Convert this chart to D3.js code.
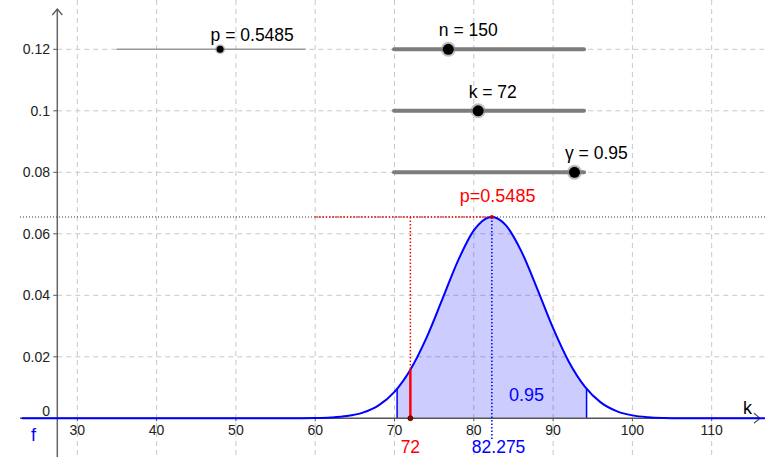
<!DOCTYPE html>
<html>
<head>
<meta charset="utf-8">
<script src="https://cdn.jsdelivr.net/npm/d3@7"></script>
<style>
  body { margin: 0; background: #fff; }
  svg { display: block; font-family: 'Liberation Sans', Arial, sans-serif; }
</style>
</head>
<body>
<svg id="chart"></svg>
<script>
// curve (k, f(k))
const curveK = [23, 30, 40, 50, 56, 58, 60, 62, 64, 66, 68, 70, 72, 74, 76, 78, 80, 82, 82.275, 84, 86, 88, 90, 92, 94, 96, 98, 100, 102, 104, 106, 110, 117]
const curveF = [0, 0, 0, 0, 0.00001, 0.00003, 0.00008, 0.00026, 0.00073, 0.00185, 0.00422, 0.00861, 0.0158, 0.026, 0.0385, 0.0512, 0.0611, 0.0654, 0.06546, 0.0629, 0.0543, 0.0421, 0.0293, 0.0183, 0.0103, 0.00518, 0.00235, 0.00095, 0.00035, 0.00011, 0.00003, 0, 0]

const xTicks = [30, 40, 50, 60, 70, 80, 90, 100, 110]
const yTicks = [0.02, 0.04, 0.06, 0.08, 0.1, 0.12]

// sliders
const sliderNames = ['p', 'n', 'k', 'γ']
const sliderValues = [0.5485, 150, 72, 0.95]
const sliderMins = [0, 10, 10, 0]
const sliderMaxs = [1, 500, 150, 1]

// annotations
const meanK = 82.275
const peakF = 0.06546
const chosenK = 72
const chosenF = 0.0158
const intervalK = [70.33, 94.22]
const intervalF = [0.0096, 0.0096]
const gammaLabel = '0.95'
const pLabel = 'p=0.5485'
const redLineStartK = 60

const width = 765
const height = 457

const svg = d3.select('#chart').attr('width', width).attr('height', height)

const x = d3.scaleLinear().domain([30, 110]).range([77.3, 711.7])
const y = d3.scaleLinear().domain([0, 0.12]).range([418.3, 49.3])
const axisX = 57.3
const axisY = y(0)

const pts = curveK.map((k, i) => [k, curveF[i]])

// grid
const grid = svg.append('g').attr('class', 'layer__grid')
grid.selectAll('.vg').data(xTicks).enter().append('line')
  .attr('x1', d => x(d)).attr('x2', d => x(d))
  .attr('y1', 0).attr('y2', height)
  .attr('stroke', '#c8c8c8').attr('stroke-dasharray', '5 4')
grid.selectAll('.hg').data(yTicks).enter().append('line')
  .attr('x1', axisX).attr('x2', width)
  .attr('y1', d => y(d)).attr('y2', d => y(d))
  .attr('stroke', '#c8c8c8').attr('stroke-dasharray', '5 4')

// peak dotted line
svg.append('line')
  .attr('x1', 20).attr('x2', width)
  .attr('y1', y(peakF)).attr('y2', y(peakF))
  .attr('stroke', '#333').attr('stroke-dasharray', '1 2')

// shaded interval
svg.append('clipPath').attr('id', 'clipInt')
  .append('rect')
  .attr('x', x(intervalK[0])).attr('y', 0)
  .attr('width', x(intervalK[1]) - x(intervalK[0])).attr('height', height)

const area = d3.area()
  .x(d => x(d[0])).y0(axisY).y1(d => y(d[1]))
  .curve(d3.curveMonotoneX)

svg.append('path')
  .datum(pts)
  .attr('d', area)
  .attr('clip-path', 'url(#clipInt)')
  .attr('fill', '#0000ff').attr('fill-opacity', 0.2)

svg.selectAll('.bound').data(intervalK).enter().append('line')
  .attr('x1', d => x(d)).attr('x2', d => x(d))
  .attr('y1', axisY).attr('y2', (d, i) => y(intervalF[i]))
  .attr('stroke', '#0000ff').attr('stroke-width', 1.5)

// axes
const axes = svg.append('g').attr('class', 'layer__axes')
axes.append('line')
  .attr('x1', 20).attr('x2', 760).attr('y1', axisY).attr('y2', axisY)
  .attr('stroke', '#555').attr('stroke-width', 1.5)
axes.append('line')
  .attr('x1', axisX).attr('x2', axisX).attr('y1', 9).attr('y2', height)
  .attr('stroke', '#666').attr('stroke-width', 1.5)
axes.append('path')
  .attr('d', `M${axisX - 5},15 L${axisX},9 L${axisX + 5},15`)
  .attr('fill', 'none').attr('stroke', '#555').attr('stroke-width', 1.2)
axes.append('path')
  .attr('d', `M754,${axisY - 5} L760,${axisY} L754,${axisY + 5}`)
  .attr('fill', 'none').attr('stroke', '#555').attr('stroke-width', 1.2)

axes.selectAll('.yt').data(yTicks).enter().append('line')
  .attr('x1', axisX - 4).attr('x2', axisX)
  .attr('y1', d => y(d)).attr('y2', d => y(d))
  .attr('stroke', '#555')
axes.selectAll('.xt').data(xTicks).enter().append('line')
  .attr('x1', d => x(d)).attr('x2', d => x(d))
  .attr('y1', axisY).attr('y2', axisY + 3)
  .attr('stroke', '#555')

axes.selectAll('.ytl').data(yTicks).enter().append('text')
  .attr('x', 50).attr('y', d => y(d)).attr('dy', '0.35em')
  .attr('text-anchor', 'end').attr('font-size', 14).attr('fill', '#222')
  .text(d => d)
axes.append('text')
  .attr('x', 50).attr('y', 416).attr('text-anchor', 'end')
  .attr('font-size', 14).attr('fill', '#222').text('0')
axes.selectAll('.xtl').data(xTicks).enter().append('text')
  .attr('x', d => x(d)).attr('y', 435)
  .attr('text-anchor', 'middle').attr('font-size', 14).attr('fill', '#222')
  .text(d => d)

// curve
const line = d3.line().x(d => x(d[0])).y(d => y(d[1])).curve(d3.curveMonotoneX)
svg.append('path')
  .datum(pts)
  .attr('d', line)
  .attr('fill', 'none').attr('stroke', '#0000ff').attr('stroke-width', 2)

// red guides
svg.append('line')
  .attr('x1', x(redLineStartK)).attr('x2', x(meanK))
  .attr('y1', y(peakF)).attr('y2', y(peakF))
  .attr('stroke', '#ff0000').attr('stroke-width', 1.5).attr('stroke-dasharray', '1.5 2')
svg.append('line')
  .attr('x1', x(chosenK)).attr('x2', x(chosenK))
  .attr('y1', y(peakF)).attr('y2', y(chosenF))
  .attr('stroke', '#ff0000').attr('stroke-width', 1.5).attr('stroke-dasharray', '1.5 2')
svg.append('line')
  .attr('x1', x(chosenK)).attr('x2', x(chosenK))
  .attr('y1', axisY).attr('y2', y(chosenF))
  .attr('stroke', '#ff0000').attr('stroke-width', 2.5)

// mean line
svg.append('line')
  .attr('x1', x(meanK)).attr('x2', x(meanK))
  .attr('y1', y(peakF)).attr('y2', 440)
  .attr('stroke', '#0000ff').attr('stroke-width', 1.5).attr('stroke-dasharray', '1.5 2')

svg.append('circle')
  .attr('cx', x(chosenK)).attr('cy', axisY).attr('r', 2.5)
  .attr('fill', '#a00000').attr('stroke', '#000').attr('stroke-width', 0.6)
svg.append('circle')
  .attr('cx', x(meanK)).attr('cy', y(peakF)).attr('r', 2)
  .attr('fill', '#c00000')

// labels
svg.append('text').attr('x', x(meanK) - 32).attr('y', 202)
  .attr('font-size', 18).attr('fill', '#ff0000').text(pLabel)
svg.append('text').attr('x', x(chosenK)).attr('y', 453)
  .attr('text-anchor', 'middle').attr('font-size', 17.5).attr('fill', '#ff0000').text(chosenK)
svg.append('text').attr('x', x(meanK) - 20).attr('y', 453)
  .attr('font-size', 17.5).attr('fill', '#0000ff').text(meanK)
svg.append('text').attr('x', 509).attr('y', 401)
  .attr('font-size', 18).attr('fill', '#0000ff').text(gammaLabel)
svg.append('text').attr('x', 743).attr('y', 414)
  .attr('font-size', 18).attr('fill', '#000').text('k')
svg.append('text').attr('x', 31).attr('y', 441)
  .attr('font-size', 18).attr('fill', '#0000ff').text('f')

// sliders (screen-fixed like GeoGebra)
const sliderLayout = [
  { x0: 117, x1: 305, row: 0.12, thin: true, labelDy: -8 },
  { x0: 394, x1: 584, row: 0.12, thin: false, labelDy: -13 },
  { x0: 394, x1: 584, row: 0.1, thin: false, labelDy: -13 },
  { x0: 394, x1: 584, row: 0.08, thin: false, labelDy: -13 }
]

const sliders = svg.append('g').attr('class', 'layer__sliders')
sliderNames.forEach((name, i) => {
  const lay = sliderLayout[i]
  const sx = d3.scaleLinear().domain([sliderMins[i], sliderMaxs[i]]).range([lay.x0, lay.x1])
  const sy = y(lay.row)
  const g = sliders.append('g')
  g.append('line')
    .attr('x1', lay.x0).attr('x2', lay.x1).attr('y1', sy).attr('y2', sy)
    .attr('stroke', lay.thin ? '#999' : '#7c7c7c')
    .attr('stroke-width', lay.thin ? 1.5 : 4)
    .attr('stroke-linecap', 'round')
  const kx = sx(sliderValues[i])
  g.append('circle').attr('cx', kx).attr('cy', sy).attr('r', lay.thin ? 5 : 7.5)
    .attr('fill', '#888').attr('fill-opacity', 0.55)
  g.append('circle').attr('cx', kx).attr('cy', sy).attr('r', lay.thin ? 3.5 : 5.5)
    .attr('fill', '#000')
  g.append('text')
    .attr('x', kx - 9.5).attr('y', sy + lay.labelDy)
    .attr('font-size', 17.5).attr('fill', '#000')
    .text(`${name} = ${sliderValues[i]}`)
})
</script>
</body>
</html>
